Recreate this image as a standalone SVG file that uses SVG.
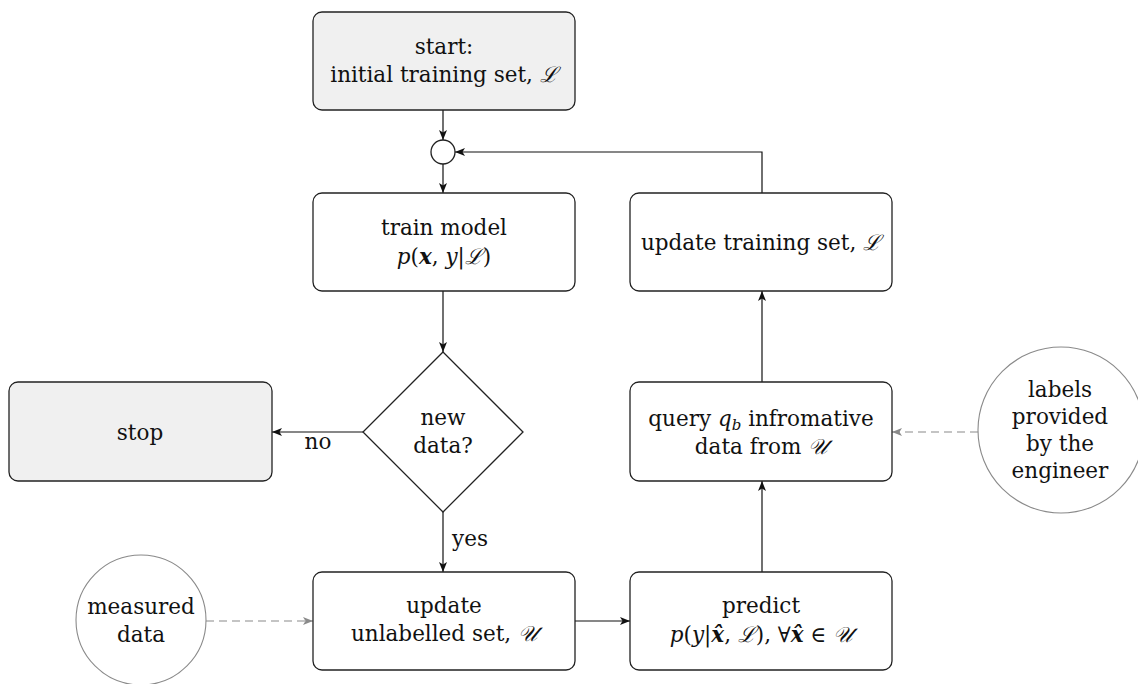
<svg xmlns="http://www.w3.org/2000/svg" width="1138" height="684" viewBox="0 0 1138 684">
  <style>
    .box { fill: #ffffff; stroke: #222222; stroke-width: 1.3; }
    .term { fill: #f0f0f0; stroke: #222222; stroke-width: 1.3; }
    .ext { fill: #ffffff; stroke: #8a8a8a; stroke-width: 1.1; }
    text { font-family: 'DejaVu Serif', serif; font-size: 21.5px; fill: #111111; text-anchor: middle; }
    .cal { font-family: 'DejaVu Serif', serif; font-style: italic; }
    .it { font-style: italic; }
    .bi { font-style: italic; font-weight: bold; }
    .edge { fill: none; stroke: #111111; stroke-width: 1.2; }
    .dash { fill: none; stroke: #8a8a8a; stroke-width: 1.2; stroke-dasharray: 8 5; }
  </style>
  <defs>
    <marker id="arrow" viewBox="0 0 10 8" refX="10" refY="4" markerWidth="10" markerHeight="8" markerUnits="userSpaceOnUse" orient="auto">
      <path d="M0,0 L10,4 L0,8 L2.5,4 Z" fill="#111111"/>
    </marker>
    <marker id="arrow-grey" viewBox="0 0 10 8" refX="10" refY="4" markerWidth="10" markerHeight="8" markerUnits="userSpaceOnUse" orient="auto">
      <path d="M0,0 L10,4 L0,8 L2.5,4 Z" fill="#8a8a8a"/>
    </marker>
  </defs>

  <!-- connectors -->
  <g id="connectors">
    <path class="edge" d="M443,110 L443,140" marker-end="url(#arrow)"/>
    <path class="edge" d="M443,164 L443,193" marker-end="url(#arrow)"/>
    <path class="edge" d="M443,291 L443,352" marker-end="url(#arrow)"/>
    <path class="edge" d="M363,432 L272,432" marker-end="url(#arrow)"/>
    <path class="edge" d="M443,512 L443,572" marker-end="url(#arrow)"/>
    <path class="edge" d="M575,621 L630,621" marker-end="url(#arrow)"/>
    <path class="edge" d="M762,572 L762,481" marker-end="url(#arrow)"/>
    <path class="edge" d="M762,382 L762,291" marker-end="url(#arrow)"/>
    <path class="edge" d="M762,193 L762,152 L455,152" marker-end="url(#arrow)"/>
    <path class="dash" d="M206,621 L313,621" marker-end="url(#arrow-grey)"/>
    <path class="dash" d="M978,432 L892,432" marker-end="url(#arrow-grey)"/>
    <text x="318" y="449">no</text>
    <text x="470" y="546">yes</text>
  </g>

  <!-- start -->
  <g id="start">
    <rect class="term" x="313" y="12" width="262" height="98" rx="9"/>
    <text x="444" y="54">start:</text>
    <text x="444" y="82">initial training set, <tspan class="cal">ℒ</tspan></text>
  </g>

  <!-- merge point -->
  <g id="merge">
    <circle class="box" cx="443" cy="152" r="12"/>
  </g>

  <!-- train model -->
  <g id="train">
    <rect class="box" x="313" y="193" width="262" height="98" rx="9"/>
    <text x="444" y="235">train model</text>
    <text x="444" y="264"><tspan class="it">p</tspan>(<tspan class="bi">x</tspan>, <tspan class="it">y</tspan>|<tspan class="cal">ℒ</tspan>)</text>
  </g>

  <!-- update training set -->
  <g id="update-train">
    <rect class="box" x="630" y="193" width="262" height="98" rx="9"/>
    <text x="761" y="250">update training set, <tspan class="cal">ℒ</tspan></text>
  </g>

  <!-- decision -->
  <g id="decision">
    <polygon class="box" points="443,352 523,432 443,512 363,432"/>
    <text x="443" y="425">new</text>
    <text x="443" y="453">data?</text>
  </g>

  <!-- stop -->
  <g id="stop">
    <rect class="term" x="9" y="382" width="263" height="99" rx="9"/>
    <text x="140" y="440">stop</text>
  </g>

  <!-- query -->
  <g id="query">
    <rect class="box" x="630" y="382" width="262" height="99" rx="9"/>
    <text x="761" y="426">query <tspan class="it">q</tspan><tspan class="it" font-size="15" dy="4">b</tspan><tspan dy="-4"> infromative</tspan></text>
    <text x="761" y="454">data from <tspan class="cal">𝒰</tspan></text>
  </g>

  <!-- engineer labels -->
  <g id="engineer">
    <circle class="ext" cx="1061" cy="430" r="83"/>
    <text x="1060" y="397">labels</text>
    <text x="1060" y="424">provided</text>
    <text x="1060" y="451">by the</text>
    <text x="1060" y="478">engineer</text>
  </g>

  <!-- measured data -->
  <g id="measured">
    <circle class="ext" cx="141" cy="620" r="65"/>
    <text x="141" y="614">measured</text>
    <text x="141" y="642">data</text>
  </g>

  <!-- update unlabelled set -->
  <g id="update-unlabelled">
    <rect class="box" x="313" y="572" width="262" height="98" rx="9"/>
    <text x="444" y="613">update</text>
    <text x="444" y="641">unlabelled set, <tspan class="cal">𝒰</tspan></text>
  </g>

  <!-- predict -->
  <g id="predict">
    <rect class="box" x="630" y="572" width="262" height="98" rx="9"/>
    <text x="761" y="613">predict</text>
    <text x="761" y="642"><tspan class="it">p</tspan>(<tspan class="it">y</tspan>|<tspan class="bi">x̂</tspan>, <tspan class="cal">ℒ</tspan>), ∀<tspan class="bi">x̂</tspan> ∈ <tspan class="cal">𝒰</tspan></text>
  </g>
</svg>
